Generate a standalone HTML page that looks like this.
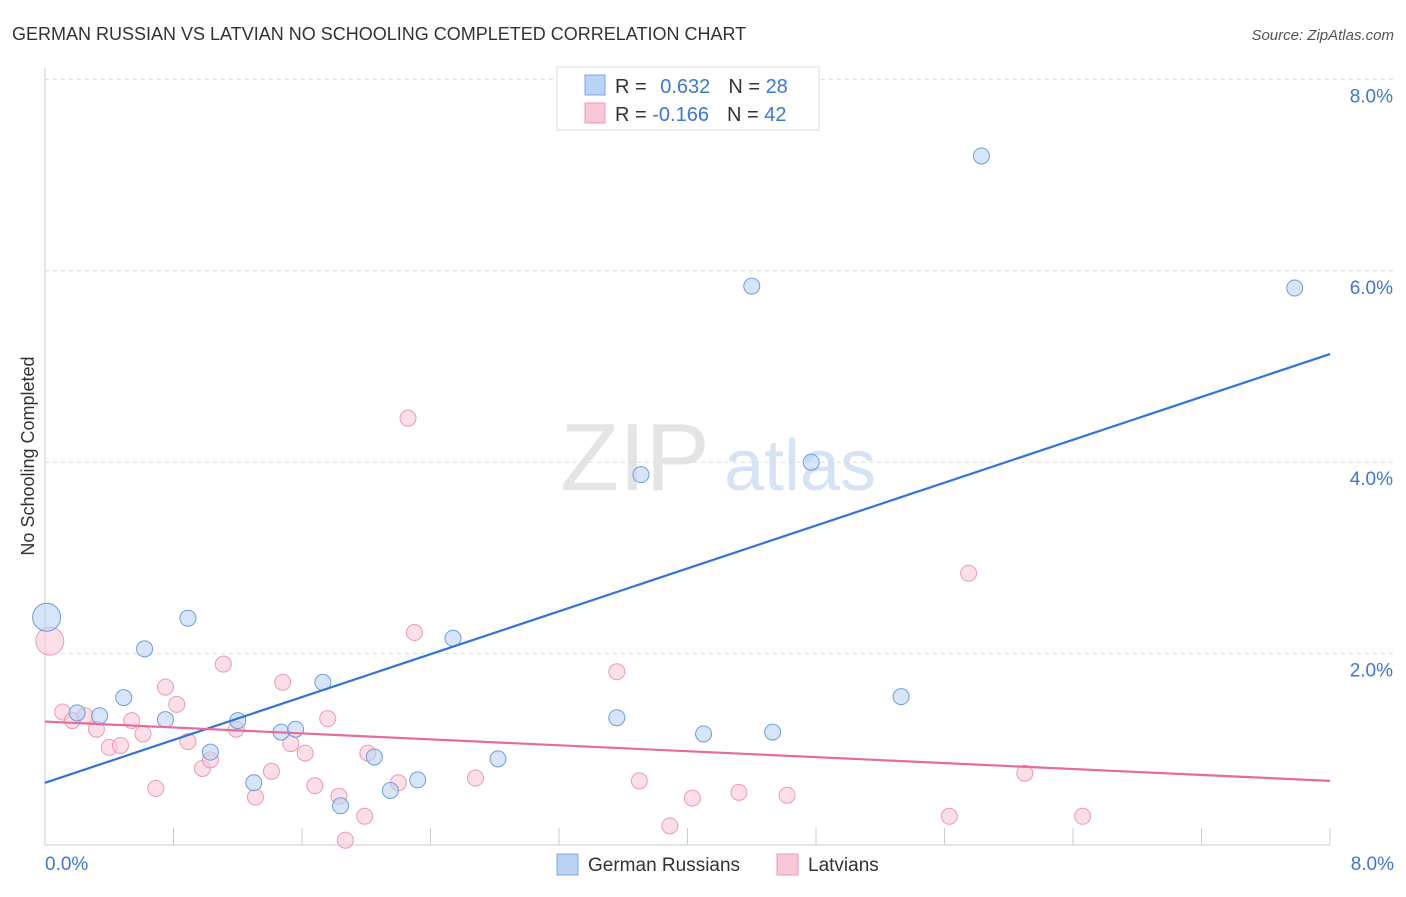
<!DOCTYPE html>
<html><head><meta charset="utf-8"><style>
body{margin:0;background:#fff;font-family:"Liberation Sans",sans-serif;}
svg text{font-family:"Liberation Sans",sans-serif;}
</style></head><body>
<svg id="c" width="1406" height="892" xmlns="http://www.w3.org/2000/svg">
<text x="12" y="40" font-size="18" fill="#333">GERMAN RUSSIAN VS LATVIAN NO SCHOOLING COMPLETED CORRELATION CHART</text>
<text x="1394" y="40" font-size="15" fill="#555" text-anchor="end" font-style="italic">Source: ZipAtlas.com</text>
<text x="34" y="456" font-size="18" fill="#333" text-anchor="middle" transform="rotate(-90 34 456)">No Schooling Completed</text>
<g><text x="635" y="490" font-size="96" fill="#e4e4e4" text-anchor="middle" font-family="Liberation Serif">ZIP</text><text x="800" y="490" font-size="72" fill="#d5e3f5" text-anchor="middle">atlas</text></g>
<g id="grid"></g><g id="axes"></g><g id="marks"></g>
<g>
<rect x="557" y="67" width="262" height="63" fill="#fff" stroke="#ddd"/>
<rect x="585" y="75" width="20" height="20" fill="#bad3f5" stroke="#7aa7e6"/>
<rect x="585" y="103" width="20" height="20" fill="#f9c8d6" stroke="#ee9ab4"/>
<text x="615" y="93" font-size="20" fill="#333">R = <tspan fill="#3b78d4" dx="8">0.632</tspan><tspan dx="18" fill="#333">N = </tspan><tspan fill="#3b78d4">28</tspan></text>
<text x="615" y="121" font-size="20" fill="#333">R = <tspan fill="#3b78d4">-0.166</tspan><tspan dx="18" fill="#333">N = </tspan><tspan fill="#3b78d4">42</tspan></text>
</g>
<g>
<rect x="557" y="854" width="21" height="21" fill="#bad3f5" stroke="#7aa7e6"/>
<text x="588" y="871" font-size="19" fill="#333">German Russians</text>
<rect x="777" y="854" width="21" height="21" fill="#f9c8d6" stroke="#ee9ab4"/>
<text x="808" y="871" font-size="19" fill="#333">Latvians</text>
</g>
</svg>
<script>
const yTicks=[2,4,6,8];
const yTickLabels=["2.0%","4.0%","6.0%","8.0%"];
const xTickLabels=["0.0%","8.0%"];
const blueX=[0.01,0.62,0.89,0.49,0.34,0.2,0.75,1.03,1.2,1.3,1.47,1.56,1.73,1.84,2.05,2.15,2.32,2.54,2.82,3.56,3.71,4.10,4.40,4.53,4.77,5.33,5.83,7.78];
const blueY=[2.38,2.05,2.37,1.54,1.35,1.38,1.31,0.97,1.30,0.65,1.18,1.21,1.70,0.41,0.92,0.57,0.68,2.16,0.90,1.33,3.87,1.16,5.84,1.18,4.00,1.55,7.20,5.82];
const pinkX=[0.03,0.11,0.17,0.25,0.32,0.40,0.47,0.54,0.61,0.69,0.75,0.82,0.89,0.98,1.03,1.11,1.19,1.31,1.41,1.48,1.53,1.62,1.68,1.76,1.83,1.87,1.99,2.01,2.20,2.26,2.30,2.68,3.56,3.70,3.89,4.03,4.32,4.62,5.63,5.75,6.10,6.46];
const pinkY=[2.13,1.39,1.30,1.35,1.21,1.02,1.04,1.30,1.16,0.59,1.65,1.47,1.08,0.80,0.89,1.89,1.21,0.50,0.77,1.70,1.06,0.96,0.62,1.32,0.51,0.05,0.30,0.96,0.65,4.46,2.22,0.70,1.81,0.67,0.20,0.49,0.55,0.52,0.30,2.84,0.75,0.30];
const blueTrend=[0.65,5.13];
const pinkTrend=[1.29,0.67];
const NS="http://www.w3.org/2000/svg";
const X=v=>45+v*160.625, Y=v=>845-v*95.7;
function mk(p,t,a){const e=document.createElementNS(NS,t);for(const k in a)e.setAttribute(k,a[k]);p.appendChild(e);return e;}
const grid=document.getElementById('grid'),axes=document.getElementById('axes'),marks=document.getElementById('marks');
yTicks.forEach((t,i)=>{
 const l=mk(grid,'line',{x1:45,x2:1394,y1:Y(t),y2:Y(t),stroke:'#ddd','stroke-dasharray':'4,4'});
 
 
 const tx=mk(grid,'text',{x:1393,y:Y(t)+23,'font-size':19,fill:'#3b78d4','text-anchor':'end'});
 tx.textContent=yTickLabels[i];
 
 
});
mk(axes,'line',{x1:45,x2:45,y1:68,y2:845,stroke:'#ccc'});
mk(axes,'line',{x1:45,x2:1330,y1:845,y2:845,stroke:'#ccc'});
for(let i=0;i<=10;i++){const x=X(i*0.8);const t=mk(axes,'line',{x1:x,x2:x,y1:828,y2:845,stroke:'#ccc'});}
const xl0=mk(axes,'text',{x:45,y:870,'font-size':19,fill:'#3b78d4'});xl0.textContent=xTickLabels[0];


const xl1=mk(axes,'text',{x:1394,y:870,'font-size':19,fill:'#3b78d4','text-anchor':'end'});xl1.textContent=xTickLabels[1];


function dots(xs,ys,fill,stroke,name){xs.forEach((x,i)=>{const r=(i===0&&x<0.05)?14:8;const c=mk(marks,'circle',{cx:X(x),cy:Y(ys[i]),r:r,fill:fill,'fill-opacity':0.6,stroke:stroke,'stroke-width':1});});}
dots(pinkX,pinkY,'#f9c8d6','#ee9ab4','latvian-point');
dots(blueX,blueY,'#bad3f5','#6d9de0','german-russian-point');
const bl=mk(marks,'line',{x1:X(0),y1:Y(blueTrend[0]),x2:X(8),y2:Y(blueTrend[1]),stroke:'#2f74d8','stroke-width':2.2});


const pl=mk(marks,'line',{x1:X(0),y1:Y(pinkTrend[0]),x2:X(8),y2:Y(pinkTrend[1]),stroke:'#e8699a','stroke-width':2.2});


</script>
</body></html>
